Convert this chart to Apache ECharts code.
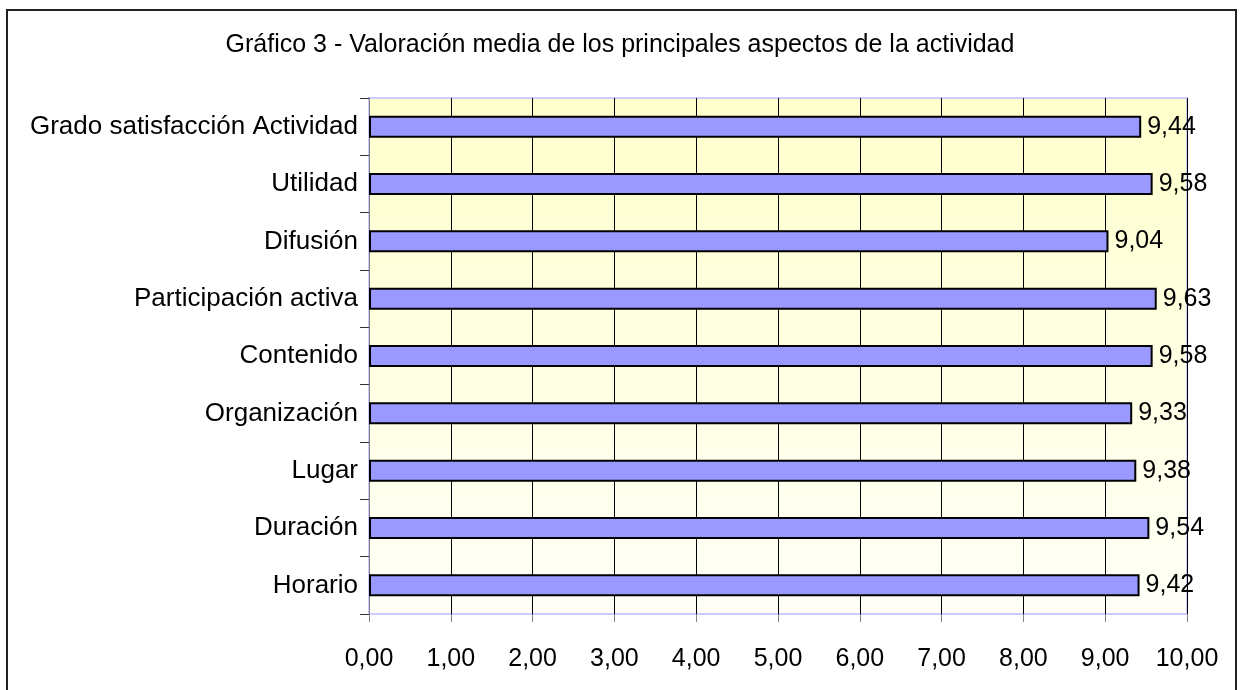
<!DOCTYPE html>
<html>
<head>
<meta charset="utf-8">
<script src="https://cdn.jsdelivr.net/npm/echarts@6/dist/echarts.min.js"></script>
<style>
html,body{margin:0;padding:0;background:#fff;}
#c{width:1240px;height:690px;}
</style>
</head>
<body>
<div id="c"></div>
<script>
var categories = ["Grado satisfacción Actividad","Utilidad","Difusión","Participación activa","Contenido","Organización","Lugar","Duración","Horario"];
var values = [9.44, 9.58, 9.04, 9.63, 9.58, 9.33, 9.38, 9.54, 9.42];
var xTicks = {min: 0, max: 10, interval: 1};
var titleText = "Gráfico 3 - Valoración media de los principales aspectos de la actividad";

var FONT = 'Liberation Sans, Arial, sans-serif';
var chart = echarts.init(document.getElementById('c'), null, {renderer: 'canvas'});
var fmt = function(v){ return Number(v).toFixed(2).replace('.', ','); };
chart.setOption({
  backgroundColor: '#ffffff',
  animation: false,
  title: {
    text: titleText, left: 'center', top: 28,
    textStyle: {fontFamily: FONT, fontSize: 25, fontWeight: 'normal', color: '#000'}
  },
  graphic: [{
    type: 'rect', shape: {x: 7, y: 10, width: 1229, height: 700},
    style: {fill: 'none', stroke: '#222', lineWidth: 2}, silent: true, z: 100
  }],
  grid: {
    left: 369, right: 53, top: 98, bottom: 76, show: true,
    backgroundColor: {type: 'linear', x: 0, y: 0, x2: 0, y2: 1,
      colorStops: [{offset: 0, color: '#ffffcc'}, {offset: 1, color: '#fffff8'}]},
    borderColor: '#ccccff', borderWidth: 2
  },
  xAxis: {
    type: 'value', min: xTicks.min, max: xTicks.max, interval: xTicks.interval,
    axisLine: {show: false},
    axisTick: {show: true, length: 8, lineStyle: {color: '#808080'}},
    splitLine: {show: true, lineStyle: {color: '#000', width: 1}},
    axisLabel: {margin: 33, formatter: fmt, color: '#000', fontSize: 25, fontFamily: FONT}
  },
  yAxis: {
    type: 'category', data: categories, inverse: true,
    axisLine: {show: true, lineStyle: {color: '#808080', width: 1}},
    axisTick: {show: true, length: 9, lineStyle: {color: '#333'}},
    axisLabel: {margin: 11, color: '#000', fontSize: 26, fontFamily: FONT}
  },
  series: [{
    type: 'bar', data: values, barWidth: 22,
    itemStyle: {color: '#9999ff', borderColor: '#000', borderWidth: 2},
    label: {show: true, position: 'right', distance: 6, formatter: function(p){ return fmt(p.value); },
      color: '#000', fontSize: 25, fontFamily: FONT}
  }]
});
</script>
</body>
</html>
